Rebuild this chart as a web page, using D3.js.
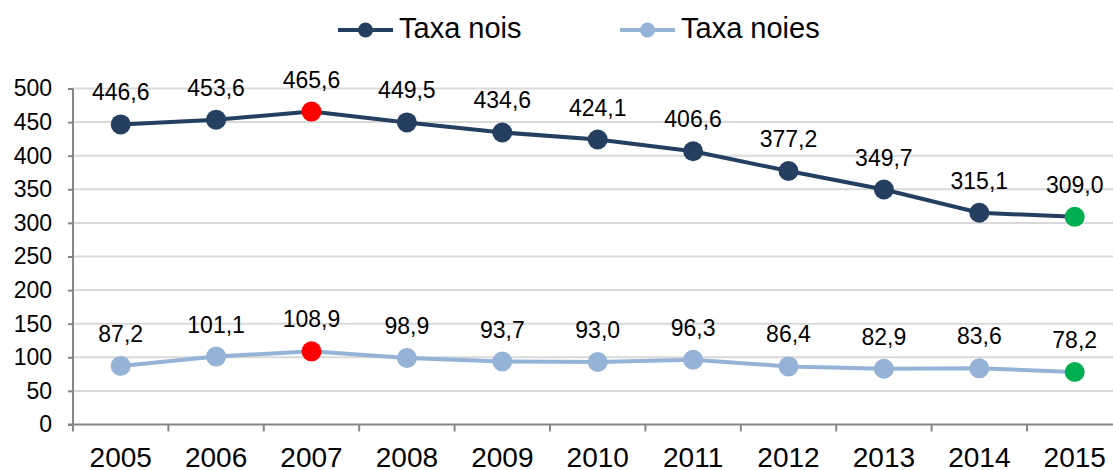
<!DOCTYPE html>
<html>
<head>
<meta charset="utf-8">
<script src="https://cdn.jsdelivr.net/npm/d3@7"></script>
<style>
  body { margin: 0; background: #fff; }
  text { font-family: "Liberation Sans", Arial, sans-serif; fill: #000; }
</style>
</head>
<body>
<div id="chart"></div>
<script>
// dades
var anys = ["2005", "2006", "2007", "2008", "2009", "2010", "2011", "2012", "2013", "2014", "2015"];
var taxaNois = [446.6, 453.6, 465.6, 449.5, 434.6, 424.1, 406.6, 377.2, 349.7, 315.1, 309.0];
var taxaNoies = [87.2, 101.1, 108.9, 98.9, 93.7, 93.0, 96.3, 86.4, 82.9, 83.6, 78.2];
var yTicks = [0, 50, 100, 150, 200, 250, 300, 350, 400, 450, 500];
var seriesNames = ["Taxa nois", "Taxa noies"];

var w = 1113;
var h = 470;
var left = 73;
var colors = ["#243F60", "#95B3D7"];
var colorMax = "#FF0000";
var colorLast = "#00B050";

var locale = d3.formatLocale({ decimal: ",", thousands: ".", grouping: [3], currency: ["", "€"] });
var fmt = locale.format(".1f");

var svg = d3.select("#chart").append("svg").attr("width", w).attr("height", h);

var x = d3.scaleBand().domain(anys).range([left, left + 11 * 95.4]).padding(0);
var y = d3.scaleLinear().domain([0, 500]).range([424.5, 88.5]);

// linies de graella
svg.append("g")
  .selectAll("line")
  .data(yTicks.slice(1))
  .enter()
  .append("line")
  .attr("x1", left)
  .attr("x2", w)
  .attr("y1", function(d) { return y(d); })
  .attr("y2", function(d) { return y(d); })
  .attr("stroke", "#d9d9d9")
  .attr("stroke-width", 2);

// eix Y
var yAxis = d3.axisLeft(y).tickValues(yTicks).tickSize(5).tickPadding(16);
var gy = svg.append("g").attr("transform", "translate(" + left + ",0)").call(yAxis);
gy.select(".domain").attr("stroke", "#868686").attr("stroke-width", 2).attr("d", "M0," + y(500) + "V" + y(0));
gy.selectAll(".tick line").attr("stroke", "#868686").attr("stroke-width", 2);
gy.selectAll("text").attr("font-size", "23px").attr("font-family", "Liberation Sans, Arial, sans-serif");

// eix X
var xAxis = d3.axisBottom(x).tickSize(0);
var gx = svg.append("g").attr("transform", "translate(0," + y(0) + ")").call(xAxis);
gx.select(".domain").attr("stroke", "#868686").attr("stroke-width", 2).attr("d", "M" + (left - 5) + ",0H" + w);
gx.selectAll("text").attr("font-size", "28px").attr("font-family", "Liberation Sans, Arial, sans-serif")
  .attr("dy", null).attr("y", 42);
var bounds = anys.map(function(d) { return x(d); });
bounds.push(x(anys[anys.length - 1]) + x.bandwidth());
gx.selectAll(".sep")
  .data(bounds)
  .enter()
  .append("line")
  .attr("class", "sep")
  .attr("x1", function(d) { return d; })
  .attr("x2", function(d) { return d; })
  .attr("y1", 0)
  .attr("y2", 7)
  .attr("stroke", "#868686")
  .attr("stroke-width", 2);

// series
var series = [taxaNois, taxaNoies];
var line = d3.line()
  .x(function(d, i) { return x(anys[i]) + x.bandwidth() / 2; })
  .y(function(d) { return y(d); });

series.forEach(function(vals, s) {
  var maxV = d3.max(vals);
  svg.append("path")
    .datum(vals)
    .attr("d", line)
    .attr("fill", "none")
    .attr("stroke", colors[s])
    .attr("stroke-width", 4);

  svg.selectAll(".pt" + s)
    .data(vals)
    .enter()
    .append("circle")
    .attr("class", "pt" + s)
    .attr("cx", function(d, i) { return x(anys[i]) + x.bandwidth() / 2; })
    .attr("cy", function(d) { return y(d); })
    .attr("r", 10)
    .attr("fill", function(d, i) {
      if (i == vals.length - 1) return colorLast;
      if (d == maxV) return colorMax;
      return colors[s];
    });

  svg.selectAll(".lbl" + s)
    .data(vals)
    .enter()
    .append("text")
    .attr("class", "lbl" + s)
    .attr("x", function(d, i) { return x(anys[i]) + x.bandwidth() / 2; })
    .attr("y", function(d) { return y(d) - 24; })
    .attr("text-anchor", "middle")
    .attr("font-size", "23px")
    .text(function(d) { return fmt(d); });
});

// llegenda
var legX = [338, 620];
seriesNames.forEach(function(name, s) {
  var g = svg.append("g").attr("transform", "translate(" + legX[s] + ",30)");
  g.append("line").attr("x1", 0).attr("x2", 55).attr("y1", 0).attr("y2", 0)
    .attr("stroke", colors[s]).attr("stroke-width", 4);
  g.append("circle").attr("cx", 27.5).attr("cy", 0).attr("r", 7.5).attr("fill", colors[s]);
  g.append("text").attr("x", 61).attr("y", 8).attr("font-size", "29px").text(name);
});
</script>
</body>
</html>
